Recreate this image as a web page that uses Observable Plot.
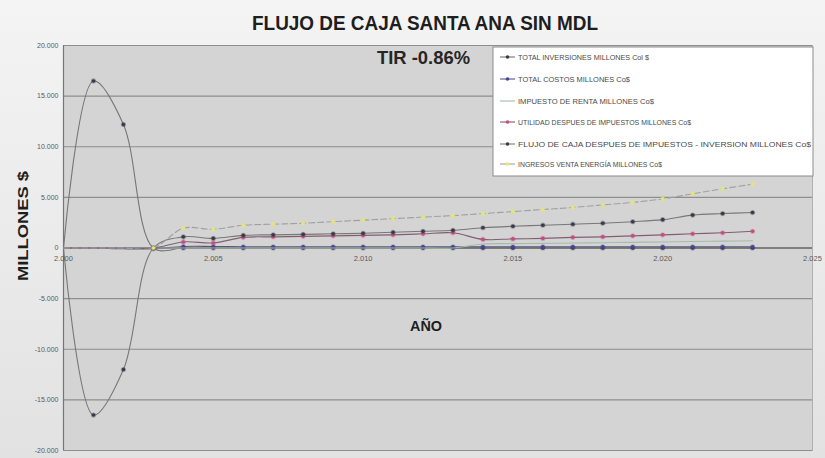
<!DOCTYPE html>
<html>
<head>
<meta charset="utf-8">
<script src="https://cdn.jsdelivr.net/npm/d3@7"></script>
<script src="https://cdn.jsdelivr.net/npm/@observablehq/plot@0.6"></script>
<style>
  html, body { margin: 0; padding: 0; background: #e8e8e8; }
  #wrap { position: relative; width: 825px; height: 458px; overflow: hidden;
          background: linear-gradient(#f4f4f4, #e2e2e2); font-family: "Liberation Sans", Arial, sans-serif; }
  #overlay { position: absolute; left: 0; top: 0; pointer-events: none; }
</style>
</head>
<body>
<div id="wrap"></div>
<script>
// ---- data ----
const years = [2000, 2001, 2002, 2003, 2004, 2005, 2006, 2007, 2008, 2009, 2010, 2011,
               2012, 2013, 2014, 2015, 2016, 2017, 2018, 2019, 2020, 2021, 2022, 2023];
const seriesNames = [
  "TOTAL INVERSIONES MILLONES Col $",
  "TOTAL COSTOS MILLONES Co$",
  "IMPUESTO DE RENTA MILLONES Co$",
  "UTILIDAD DESPUES DE IMPUESTOS MILLONES Co$",
  "FLUJO DE CAJA DESPUES DE IMPUESTOS - INVERSION MILLONES Co$",
  "INGRESOS VENTA ENERGÍA MILLONES Co$"
];
const inversiones = [0, 16500, 12200, 0, 0, 0, 0, 0, 0, 0, 0, 0, 0, 0, 0, 0, 0, 0, 0, 0, 0, 0, 0, 0];
const costos      = [0, 0, -80, -80, 150, 150, 120, 120, 120, 120, 120, 120, 120, 120, 120, 120, 120, 120, 120, 120, 120, 120, 120, 120];
const impuesto    = [0, 0, 0, 0, 0, 0, 0, 0, 0, 0, 0, 0, 0, 0, 400, 430, 460, 490, 520, 560, 600, 640, 680, 720];
const utilidad    = [0, 0, 0, 0, 600, 500, 1050, 1100, 1150, 1200, 1250, 1300, 1400, 1500, 850, 900, 950, 1050, 1100, 1200, 1300, 1400, 1500, 1650];
const flujo       = [0, -16500, -12000, 0, 1100, 950, 1250, 1300, 1350, 1400, 1450, 1550, 1650, 1750, 2000, 2150, 2250, 2350, 2450, 2600, 2800, 3250, 3400, 3500];
const ingresos    = [0, 0, 0, 0, 1950, 1850, 2250, 2350, 2450, 2600, 2750, 2900, 3050, 3200, 3400, 3600, 3800, 4000, 4250, 4500, 4850, 5350, 5850, 6300];
const yTicks = [-20000, -15000, -10000, -5000, 0, 5000, 10000, 15000, 20000];
const xTicks = [2000, 2005, 2010, 2015, 2020, 2025];
const lineColors   = ["#767676", "#555580", "#a4bcaa", "#806070", "#787878", "#a0a0a0"];
const markerColors = ["#38384e", "#44449a", null, "#c84a80", "#3a3a48", "#e4e47a"];
const dashes       = [null, null, null, null, null, "6,3"];

const allValues = [inversiones, costos, impuesto, utilidad, flujo, ingresos];
const data = [];
seriesNames.forEach((s, i) => {
  years.forEach((y, j) => data.push({series: s, idx: i, year: y, value: allValues[i][j]}));
});

const loc = d3.formatLocale({decimal: ",", thousands: ".", grouping: [3], currency: ["$", ""], minus: "-"});
const fmt = loc.format(",");

const W = 825, H = 458;
const marks = [
  Plot.frame({fill: "#d4d4d4", stroke: "#b0b0b0"}),
  Plot.ruleY(yTicks, {stroke: "#8e8e8e", strokeWidth: 1.2}),
  Plot.ruleY([0], {stroke: "#6e6e6e", strokeWidth: 1.6}),
  Plot.ruleX([2000], {stroke: "#767676", strokeWidth: 1.2})
];
seriesNames.forEach((s, i) => {
  const d = data.filter(r => r.idx === i);
  marks.push(Plot.line(d, {x: "year", y: "value", curve: "catmull-rom",
    stroke: lineColors[i], strokeWidth: 1.1, strokeDasharray: dashes[i] || undefined}));
  if (markerColors[i]) {
    const md = (i === 0 || i === 4) ? d.filter(r => r.year >= 2001) : d.filter(r => r.year >= 2003);
    marks.push(Plot.dot(md, {x: "year", y: "value", r: 1.8,
      fill: markerColors[i], stroke: markerColors[i], strokeOpacity: 0.35, strokeWidth: 1.6}));
  }
});
marks.push(Plot.text(xTicks, {x: d => d, y: 0, text: d => fmt(d), dy: 11,
  fontSize: 7.5, fill: "#5a5a5a"}));
marks.push(Plot.axisY({ticks: yTicks, tickFormat: fmt, tickSize: 0, tickPadding: 5,
  fontSize: 7, label: null, color: "#5a5a5a"}));

const chart = Plot.plot({
  width: W, height: H,
  marginLeft: 63, marginRight: 13, marginTop: 45, marginBottom: 8,
  style: {background: "transparent", fontFamily: "Liberation Sans, Arial, sans-serif"},
  x: {domain: [2000, 2025], axis: null},
  y: {domain: [-20000, 20000]},
  marks
});
const wrap = document.getElementById("wrap");
wrap.appendChild(chart);

// ---- overlay: titles, axis titles, legend ----
const ns = "http://www.w3.org/2000/svg";
const ov = d3.select(wrap).append("svg").attr("id", "overlay")
  .attr("width", W).attr("height", H).attr("xmlns", ns);

function txt(x, y, s, size, opts = {}) {
  const t = ov.append("text").attr("x", x).attr("y", y).text(s)
    .attr("font-size", size).attr("font-family", "Liberation Sans, Arial, sans-serif")
    .attr("fill", opts.fill || "#222").attr("font-weight", opts.bold ? "bold" : "normal")
    .attr("text-anchor", opts.anchor || "start");
  if (opts.len) t.attr("textLength", opts.len).attr("lengthAdjust", "spacingAndGlyphs");
  if (opts.rotate) t.attr("transform", `rotate(-90 ${x} ${y})`);
  return t;
}
txt(252, 30, "FLUJO DE CAJA SANTA ANA SIN MDL", 21, {bold: true, len: 346, fill: "#1e1e1e"});
txt(377, 64, "TIR -0.86%", 18, {bold: true, len: 93, fill: "#262626"});
txt(410, 331, "AÑO", 15, {bold: true, len: 32, fill: "#1e1e1e"});
txt(28, 281, "MILLONES $", 15, {bold: true, len: 110, rotate: true, fill: "#1e1e1e"});

// legend
ov.append("rect").attr("x", 493).attr("y", 47).attr("width", 320).attr("height", 129)
  .attr("fill", "#ffffff").attr("stroke", "#8c8c8c").attr("stroke-width", 1);
const legY = [57, 79, 101, 122, 144, 164];
seriesNames.forEach((s, i) => {
  const y = legY[i];
  ov.append("line").attr("x1", 500).attr("x2", 515).attr("y1", y).attr("y2", y)
    .attr("stroke", lineColors[i]).attr("stroke-width", 1.1);
  if (markerColors[i]) ov.append("circle").attr("cx", 507.5).attr("cy", y).attr("r", 1.8)
    .attr("fill", markerColors[i]);
  const lens = [131, 112, 136, 173, 293, 144];
  txt(518, y + 2.5, s, 7.5, {fill: "#4a4a4a", len: lens[i]});
});
</script>
</body>
</html>
